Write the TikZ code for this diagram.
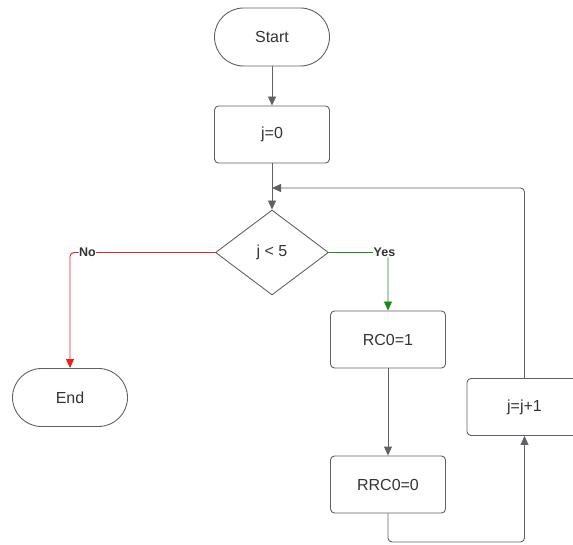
\documentclass[tikz,border=0pt]{standalone}
\usepackage{fontspec}
\setmainfont{Liberation Sans}
\usetikzlibrary{arrows.meta,shapes.geometric}
\definecolor{lc}{HTML}{5F6167}
\definecolor{tc}{HTML}{333333}
\definecolor{nored}{HTML}{E52222}
\definecolor{yesgreen}{HTML}{1A8A1A}
\begin{document}
\begin{tikzpicture}[x=1pt,y=-1pt,
  every node/.style={text=tc,font=\fontsize{16}{18}\selectfont},
  term/.style={draw=lc,line width=0.9pt,rounded corners=29pt,minimum width=115pt,minimum height=58pt,inner sep=0pt},
  proc/.style={draw=lc,line width=0.9pt,rounded corners=4pt,minimum width=115pt,minimum height=57pt,inner sep=0pt},
  dec/.style={draw=lc,line width=0.9pt,diamond,shape aspect=1.33,minimum width=113pt,minimum height=85pt,inner sep=0pt},
  conn/.style={draw=lc,line width=0.9pt,-{Triangle[length=9pt,width=8pt]},rounded corners=4pt},
  lbl/.style={font=\bfseries\fontsize{12.5}{14}\selectfont,fill=white,inner sep=0.5pt}
]
\useasboundingbox (0,0) rectangle (573,545);
\node[term] (start) at (272,37) {Start};
\node[proc] (j0) at (272,134.5) {j=0};
\node[dec] (cond) at (272,252.5) {j < 5};
\node[term] (end) at (70,397.5) {End};
\node[proc] (rc) at (388,339.5) {RC0=1};
\node[proc] (rrc) at (388,484.5) {RRC0=0};
\node[proc] (inc) at (524.5,407) {j=j+1};
\coordinate (merge) at (272,188);
\draw[conn] (start) -- (j0);
\draw[conn] (j0) -- (cond);
\draw[conn,draw=nored] (cond.west) -| node[lbl,pos=0.44] {No} (end.north);
\draw[conn,draw=yesgreen] (cond.east) -| node[lbl,pos=0.47] {Yes} (rc.north);
\draw[conn] (rc) -- (rrc);
\draw[conn] (rrc.south) -- (388,542) -| (inc.south);
\draw[conn] (inc.north) |- (merge);
\end{tikzpicture}
\end{document}
